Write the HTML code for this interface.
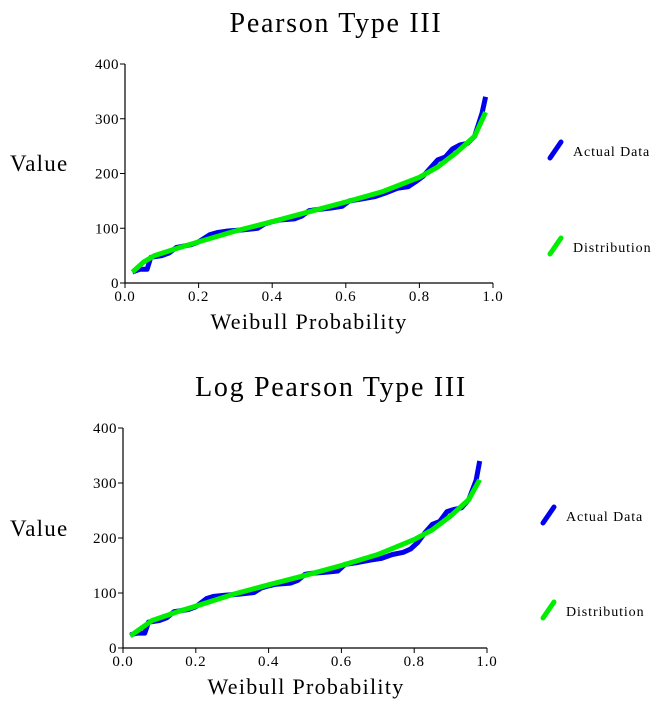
<!DOCTYPE html>
<html><head><meta charset="utf-8"><style>
html,body{margin:0;padding:0;background:#fff;}
svg{display:block;font-family:"Liberation Serif",serif;}
</style></head><body>
<svg id="chart" width="658" height="704" viewBox="0 0 658 704"></svg>
<script>
const probs1 = [0.02,0.04,0.06,0.07,0.10,0.12,0.14,0.18,0.20,0.23,0.25,0.28,0.32,0.36,0.38,0.40,0.42,0.46,0.48,0.50,0.52,0.56,0.59,0.61,0.64,0.68,0.71,0.74,0.77,0.79,0.81,0.83,0.85,0.87,0.89,0.91,0.93,0.95,0.97,0.98];
const actual1 = [20,25,25,47,50,55,65,70,75,88,92,95,97,100,108,112,115,117,122,132,134,137,140,150,153,158,165,173,176,185,195,210,225,230,245,252,255,268,310,340];
const distProbs = [0.02,0.05,0.08,0.15,0.20,0.30,0.40,0.50,0.60,0.70,0.80,0.85,0.90,0.95,0.98];
const dist1 = [20,38,50,65,75,95,112,130,148,167,193,212,238,268,312];
const actual2 = [24,27,27,47,50,55,66,70,75,90,94,96,98,101,109,113,116,118,123,134,136,138,140,152,155,160,163,170,174,180,192,210,225,230,248,252,255,270,305,340];
const dist2 = [22,36,50,66,76,97,115,132,150,170,197,215,240,270,306];
const xTicks = ["0.0","0.2","0.4","0.6","0.8","1.0"];
const yTicks = ["0","100","200","300","400"];

const NS="http://www.w3.org/2000/svg";
const svg=document.getElementById('chart');
function mk(tag,attrs,parent,text){const e=document.createElementNS(NS,tag);for(const k in attrs)e.setAttribute(k,attrs[k]);if(text!==undefined)e.textContent=text;(parent||svg).appendChild(e);return e;}

function drawChart(cfg){
  const g=mk('g',{});
  
  
  const xs=v=>cfg.x0+(cfg.x1-cfg.x0)*v;
  const ys=v=>cfg.y0-(cfg.y0-cfg.y1)*v/400;
  const t=mk('text',{x:cfg.titleX,y:cfg.titleY,'text-anchor':'middle','font-size':28,'letter-spacing':1.7},g,cfg.title);
  
  
  const yl=mk('text',{x:10,y:cfg.valueY,'font-size':23,'letter-spacing':1.2},g,'Value');
  
  
  const xl=mk('text',{x:cfg.xtX,y:cfg.xtY,'text-anchor':'middle','font-size':22,'letter-spacing':1.3},g,'Weibull Probability');
  
  
  const ax=mk('path',{d:`M${cfg.x0} ${cfg.y1}V${cfg.y0}H${cfg.x1}`,stroke:'#000','stroke-width':1.2,fill:'none'},g);
  
  
  xTicks.forEach((lab,i)=>{const x=xs(parseFloat(lab));
    mk('line',{x1:x,x2:x,y1:cfg.y0,y2:cfg.y0+5,stroke:'#000'},g);
    const tl=mk('text',{x:x,y:cfg.y0+18,'text-anchor':'middle','font-size':15,'letter-spacing':0.8},g,lab);
    
    });
  yTicks.forEach((lab,i)=>{const y=ys(parseFloat(lab));
    mk('line',{x1:cfg.x0-5,x2:cfg.x0,y1:y,y2:y,stroke:'#000'},g);
    const tl=mk('text',{x:cfg.x0-6,y:y+5,'text-anchor':'end','font-size':15,'letter-spacing':0.5},g,lab);
    
    });
  const pa=cfg.actual.map((v,i)=>(i?'L':'M')+xs(probs1[i]).toFixed(1)+' '+ys(v).toFixed(1)).join('');
  const la=mk('path',{d:pa,stroke:'#0000ee','stroke-width':5,fill:'none','stroke-linejoin':'round'},g);
  
  
  const pd=cfg.dist.map((v,i)=>(i?'L':'M')+xs(distProbs[i]).toFixed(1)+' '+ys(v).toFixed(1)).join('');
  const ld=mk('path',{d:pd,stroke:'#00ee00','stroke-width':5,fill:'none','stroke-linejoin':'round'},g);
  
  
  [['Actual Data','#0000ee',cfg.legY1],['Distribution','#00ee00',cfg.legY2]].forEach(([lab,col,y])=>{
    const le=mk('g',{},g);
    
    
    mk('line',{x1:cfg.legX,y1:y+8,x2:cfg.legX+11,y2:y-8,stroke:col,'stroke-width':5,'stroke-linecap':'round'},le);
    mk('text',{x:cfg.legX+23,y:y+6,'font-size':14,'letter-spacing':0.9},le,lab);
  });
}
drawChart({name:'pearson-chart',title:'Pearson Type III',titleX:336,titleY:32,valueY:171,xtX:309,xtY:329,
  x0:125,x1:493,y0:283,y1:64,actual:actual1,dist:dist1,legX:550,legY1:150,legY2:246});
drawChart({name:'log-pearson-chart',title:'Log Pearson Type III',titleX:331,titleY:396,valueY:536,xtX:306,xtY:694,
  x0:123,x1:487,y0:648,y1:428,actual:actual2,dist:dist2,legX:543,legY1:515,legY2:610});
</script>
</body></html>
